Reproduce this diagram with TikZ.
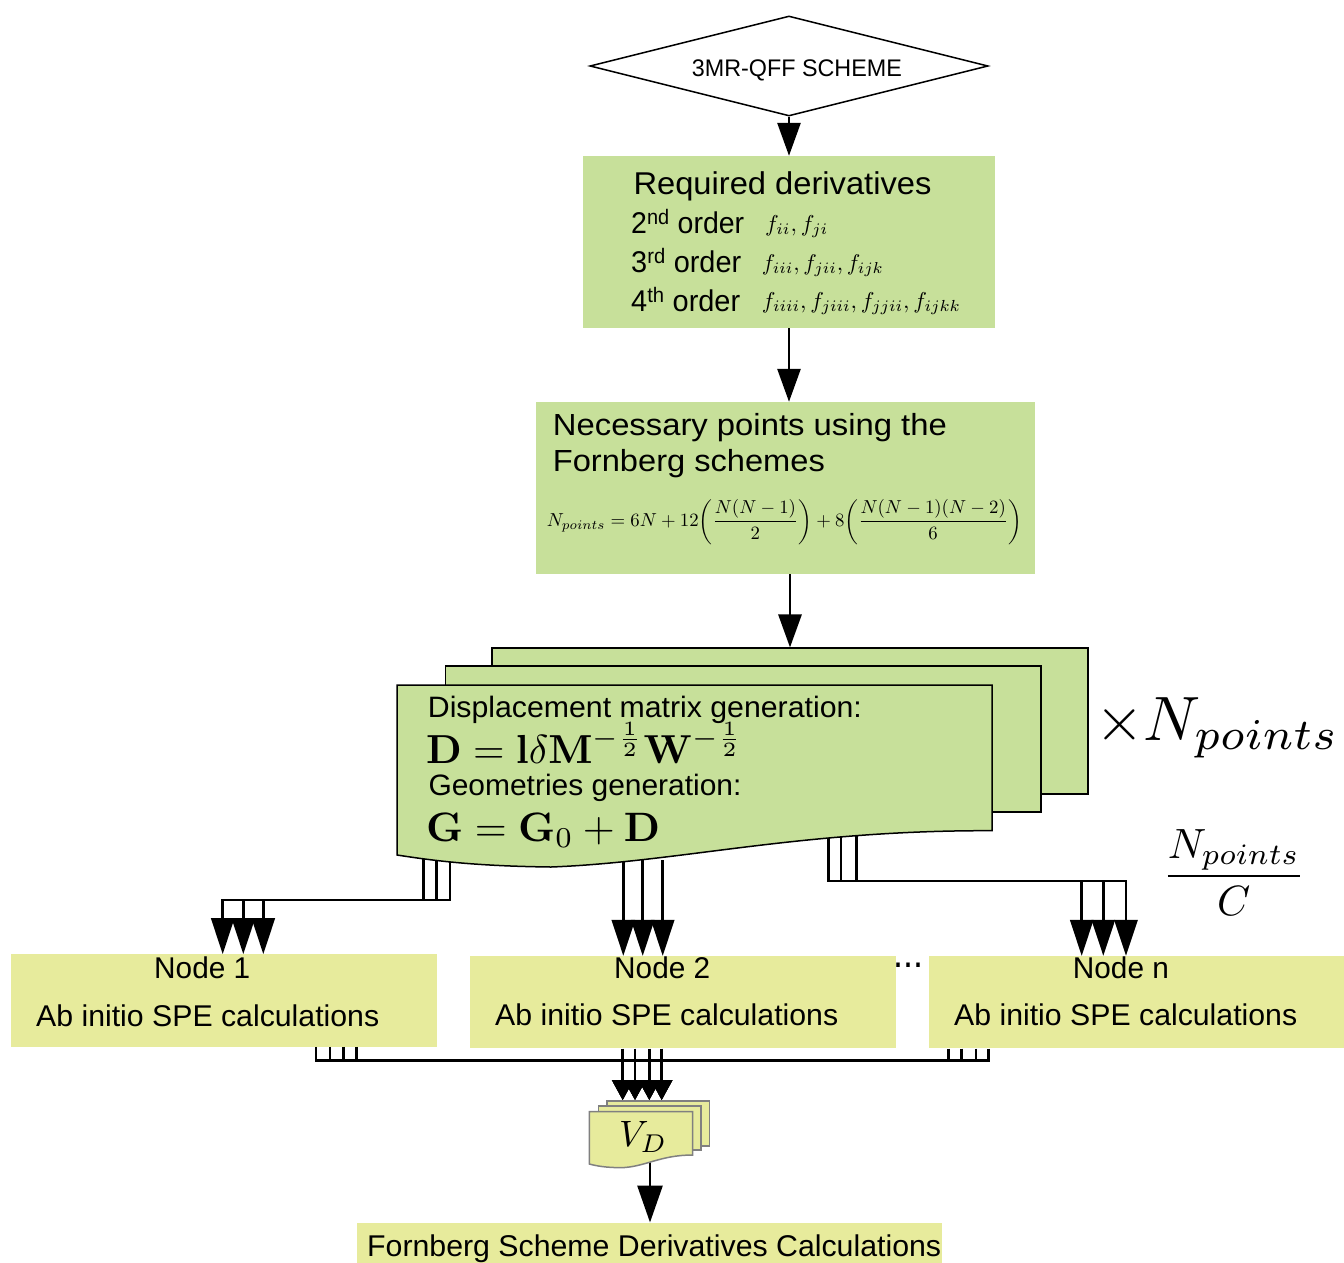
\documentclass[tikz,border=0pt]{standalone}
\usepackage[no-math]{fontspec}
\setmainfont{Liberation Sans}
\usepackage{amsmath}
\usetikzlibrary{arrows.meta,shapes.geometric}
\definecolor{boxgreen}{HTML}{C7E09A}
\definecolor{boxyellow}{HTML}{E7EB9C}
\definecolor{docgray}{HTML}{808080}
\newcommand{\myfitw}[3]{\resizebox{#1pt}{\height}{\fontsize{#2pt}{#2pt}\selectfont #3}}
\newcommand{\myfitm}[2]{\resizebox{#1pt}{!}{$\displaystyle #2$}}
\begin{document}
\begin{tikzpicture}[x=1pt,y=-1pt,
  txt/.style={inner sep=0pt, anchor=base west},
  gbox/.style={fill=boxgreen, inner sep=0pt},
  ybox/.style={fill=boxyellow, inner sep=0pt},
  bigdoc/.style={draw=black, fill=boxgreen, line width=1.5pt, inner sep=0pt},
  smalldoc/.style={draw=docgray, fill=boxyellow, line width=1.5pt, inner sep=0pt},
  conn/.style={line width=2.8pt},
  bigarr/.style={conn, -{Triangle[length=33pt,width=23pt]}},
  triarr/.style={conn, -{Triangle[length=36pt,width=23pt]}},
  smallarr/.style={conn, -{Triangle[length=20pt,width=21pt]}},
  finarr/.style={conn, -{Triangle[length=37pt,width=25pt]}}
]
\useasboundingbox (0,0) rectangle (1344,1262);

% ---------- top: scheme diamond ----------
\node[draw, diamond, line width=1.5pt, minimum width=398pt, minimum height=100pt, inner sep=0pt, fill=white] (start) at (789,66) {};
\node[txt] (starttxt) at (691.7,76.7) {\myfitw{210}{24}{3MR-QFF SCHEME}};

% ---------- required derivatives ----------
\node[gbox, minimum width=412pt, minimum height=172pt] (reqbox) at (789,242) {};
\node[txt] (reqtitle) at (633.3,194.3) {\myfitw{298}{31.5}{Required derivatives}};
\node[txt] (ord2) at (631,233.3) {\myfitw{113}{30}{2\textsuperscript{nd} order}};
\node[txt] (ord3) at (631,272.7) {\myfitw{110}{30}{3\textsuperscript{rd} order}};
\node[txt] (ord4) at (631,311.7) {\myfitw{109}{30}{4\textsuperscript{th} order}};
\node[txt] (f2) at (765,231.5) {\myfitm{63}{f_{ii}, f_{ji}}};
\node[txt] (f3) at (761.7,270) {\myfitm{122}{f_{iii}, f_{jii}, f_{ijk}}};
\node[txt] (f4) at (761.7,308.5) {\myfitm{199}{f_{iiii}, f_{jiii}, f_{jjii}, f_{ijkk}}};

% ---------- Fornberg points ----------
\node[gbox, minimum width=499pt, minimum height=172pt] (fornbox) at (785.5,488) {};
\node[txt] (forn1) at (552.7,435) {\myfitw{394}{30.5}{Necessary points using the}};
\node[txt] (forn2) at (552.7,471.7) {\myfitw{272}{30.5}{Fornberg schemes}};
\node[txt] (fornf) at (546.7,526.5) {\myfitm{475}{N_{points} = 6N + 12\biggl(\frac{N(N-1)}{2}\biggr) + 8\biggl(\frac{N(N-1)(N-2)}{6}\biggr)}};

\draw[bigarr] (start.south) -- (reqbox.north);
\draw[bigarr] (reqbox.south) -- (reqbox.south |- fornbox.north);

% ---------- stacked documents ----------
\node[bigdoc, minimum width=596pt, minimum height=146pt] (docback) at (790,721.2) {};
\node[bigdoc, minimum width=595.5pt, minimum height=146pt] (docmid) at (743,739.2) {};
\draw[bigarr] (fornbox.south -| docback.north) -- (docback.north);

% connectors leaving the documents (drawn under the front sheet)
\coordinate (dL1) at (423.3,850);
\coordinate (dL2) at (436.7,850);
\coordinate (dL3) at (450,850);
\coordinate (dM1) at (623.3,860);
\coordinate (dM2) at (642.7,860);
\coordinate (dM3) at (662.7,860);
\coordinate (dR1) at (828.3,835);
\coordinate (dR2) at (841,835);
\coordinate (dR3) at (856.7,835);

\node[ybox, minimum width=426pt, minimum height=92.4pt] (node1) at (223.7,1000.5) {};
\node[ybox, minimum width=426pt, minimum height=92.3pt] (node2) at (683,1002.2) {};
\node[ybox, minimum width=414.7pt, minimum height=92.3pt] (noden) at (1136.7,1002.2) {};

\draw[triarr] (dL1) -- ++(0,50) -| ([xshift=-1pt]node1.north);
\draw[triarr] (dL2) -- ++(0,50) -| ([xshift=19.6pt]node1.north);
\draw[triarr] (dL3) -- ++(0,50) -| ([xshift=39.6pt]node1.north);
\draw[triarr] (dM1) -- (dM1 |- node2.north);
\draw[triarr] (dM2) -- (dM2 |- node2.north);
\draw[triarr] (dM3) -- (dM3 |- node2.north);
\draw[triarr] (dR1) -- ++(0,46) -| ([xshift=-55pt]noden.north);
\draw[triarr] (dR2) -- ++(0,46) -| ([xshift=-33.4pt]noden.north);
\draw[triarr] (dR3) -- ++(0,46) -| ([xshift=-10.7pt]noden.north);

% front sheet
\draw[line width=1.5pt, fill=boxgreen] (397,685) -- (992,685) -- (992,830.7)
  .. controls (800,830) and (680,862) .. (551,867)
  .. controls (470,866) and (430,860) .. (397,855) -- cycle;
\node[txt] (disptxt) at (427.7,717.3) {\myfitw{434}{29.5}{Displacement matrix generation:}};
\node[txt] (dispf) at (426,763.3) {\myfitm{317}{\mathbf{D}=\mathbf{l}\delta\mathbf{M}^{-\frac{1}{2}}\mathbf{W}^{-\frac{1}{2}}}};
\node[txt] (geomtxt) at (428.3,795) {\myfitw{313}{29.5}{Geometries generation:}};
\node[txt] (geomf) at (426,841.7) {\myfitm{234}{\mathbf{G}=\mathbf{G}_0+\mathbf{D}}};

\node[txt] (times) at (1095,740) {\myfitm{244}{\times N_{points}}};
\node[inner sep=0pt, anchor=base] (ratio) at (1233.8,886.7) {\myfitm{142}{\frac{N_{points}}{C}}};

% ---------- compute nodes ----------
\node[txt] (n1a) at (154,978.3) {\myfitw{96}{30}{Node 1}};
\node[txt] (n1b) at (36,1026) {\myfitw{343}{30}{Ab initio SPE calculations}};
\node[txt] (n2a) at (614,978.3) {\myfitw{96}{30}{Node 2}};
\node[txt] (n2b) at (495,1025.3) {\myfitw{343}{30}{Ab initio SPE calculations}};
\node[txt] (nna) at (1072.7,978.3) {\myfitw{96}{30}{Node n}};
\node[txt] (nnb) at (954,1025) {\myfitw{343}{30}{Ab initio SPE calculations}};
\node[txt] (dots) at (893,967.5) {\myfitw{30}{42}{...}};

% ---------- gathering of results ----------
\coordinate (vd1) at (622.7,1100);
\coordinate (vd2) at (635,1100);
\coordinate (vd3) at (649.3,1100);
\coordinate (vd4) at (661.7,1100);

\draw[smallarr] ([xshift=92.3pt]node1.south) -- ++(0,13.3) -| (vd1);
\draw[smallarr] ([xshift=106.3pt]node1.south) -- ++(0,13.3) -| (vd2);
\draw[smallarr] ([xshift=119.6pt]node1.south) -- ++(0,13.3) -| (vd3);
\draw[smallarr] ([xshift=133pt]node1.south) -- ++(0,13.3) -| (vd4);
\draw[smallarr] ([xshift=-188.4pt]noden.south) -- ++(0,11.7) -| (vd1);
\draw[smallarr] ([xshift=-175pt]noden.south) -- ++(0,11.7) -| (vd2);
\draw[smallarr] ([xshift=-160.7pt]noden.south) -- ++(0,11.7) -| (vd3);
\draw[smallarr] ([xshift=-148.4pt]noden.south) -- ++(0,11.7) -| (vd4);
\draw[smallarr] ([xshift=-60.3pt]node2.south) -- (vd1);
\draw[smallarr] ([xshift=-48pt]node2.south) -- (vd2);
\draw[smallarr] ([xshift=-33.7pt]node2.south) -- (vd3);
\draw[smallarr] ([xshift=-21.3pt]node2.south) -- (vd4);

\node[smalldoc, minimum width=102.9pt, minimum height=45.3pt] (vdback) at (658.2,1123.4) {};
\node[smalldoc, minimum width=102.4pt, minimum height=44pt] (vdmid) at (649.6,1128) {};

\node[ybox, minimum width=584.5pt, minimum height=40pt] (result) at (649.7,1242.7) {};
\coordinate (vdout) at (650,1160);
\draw[finarr] (vdout) -- (vdout |- result.north);

\draw[line width=1.5pt, draw=docgray, fill=boxyellow] (589.3,1111.7) -- (692.6,1111.7) -- (692.6,1155)
  .. controls (660,1155) and (645,1167) .. (621,1167.7)
  .. controls (605,1167.5) and (597,1166) .. (589.3,1164) -- cycle;
\node[txt] (vdtxt) at (619,1146.7) {\myfitm{48}{V_D}};

\node[txt] (restxt) at (367,1256) {\myfitw{574}{30}{Fornberg Scheme Derivatives Calculations}};
\end{tikzpicture}
\end{document}
